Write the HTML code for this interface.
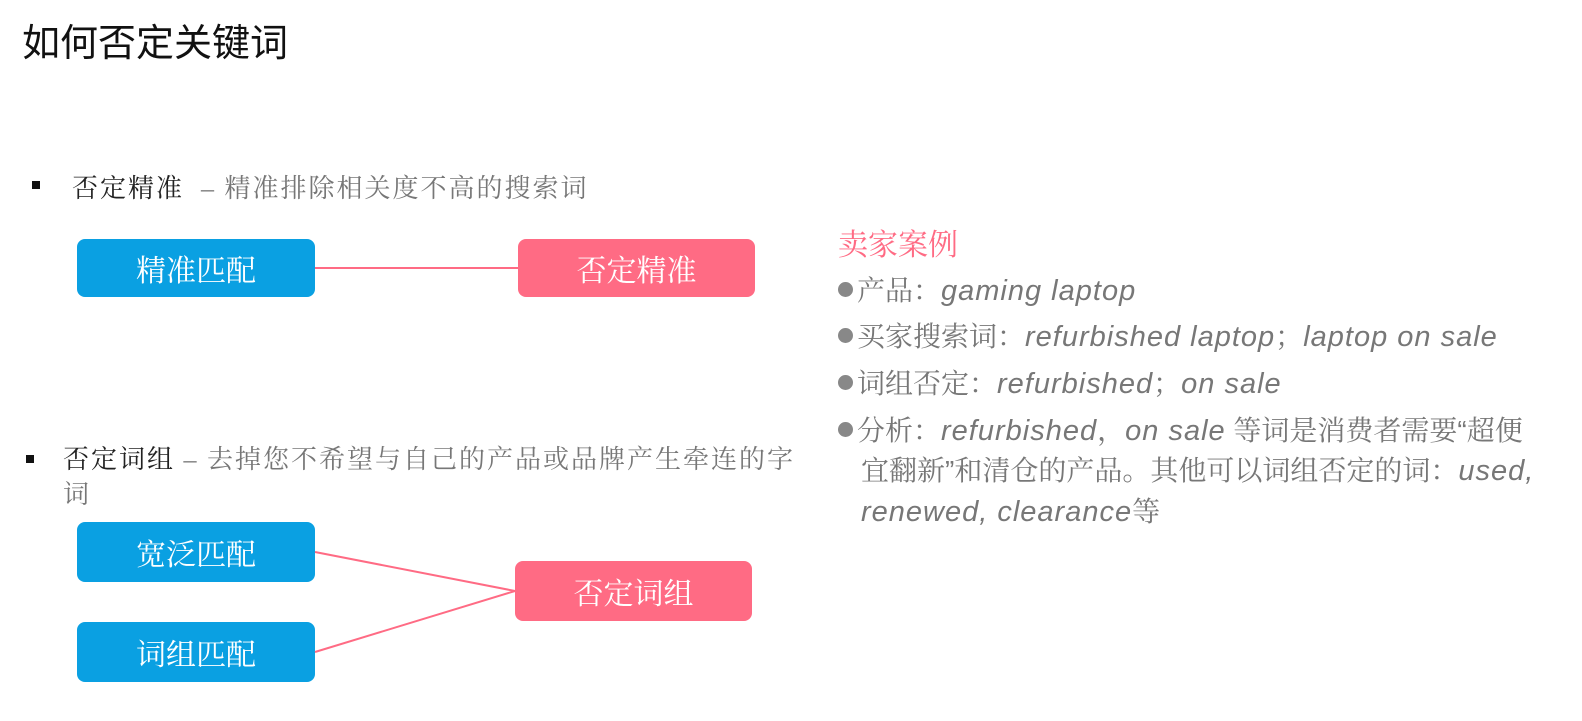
<!DOCTYPE html>
<html><head><meta charset="utf-8"><style>
body{margin:0;width:1582px;height:721px;background:#fff;position:relative;overflow:hidden;font-family:"Liberation Sans","Noto Sans CJK SC",sans-serif}
.a{position:absolute;white-space:nowrap}
.box{position:absolute;border-radius:8px;color:#fff;font-size:30px;display:flex;align-items:center;justify-content:center;font-family:"Liberation Serif","Noto Serif CJK SC",serif}
.b{background:#0aa0e2}.p{background:#ff6b84}
.r{font-family:"Liberation Sans","Noto Serif CJK SC",serif;color:#777;font-size:28px}
.r i{font-style:italic;font-size:29px;letter-spacing:1px}
.dot{display:inline-block;width:15px;height:15px;border-radius:50%;background:#888;margin-right:4px;vertical-align:3px}
.g{color:#777;font-family:"Liberation Serif","Noto Serif CJK SC",serif}
</style></head><body>
<div class="a" style="left:22px;top:12px;font-size:38px;color:#111">如何否定关键词</div>

<div class="a" style="left:32px;top:181px;width:8px;height:8px;background:#111"></div>
<div class="a" style="left:72px;top:168px;font-size:26px;letter-spacing:2px;color:#222;font-family:'Liberation Serif','Noto Serif CJK SC',serif">否定精准 <span class="g">&nbsp;– 精准排除相关度不高的搜索词</span></div>

<div class="box b" style="left:77px;top:239px;width:238px;height:58px">精准匹配</div>
<div class="box p" style="left:518px;top:239px;width:237px;height:58px">否定精准</div>

<div class="a" style="left:26px;top:455px;width:8px;height:8px;background:#111"></div>
<div class="a" style="left:63px;top:442px;font-size:26px;letter-spacing:2px;color:#222;line-height:35px;font-family:'Liberation Serif','Noto Serif CJK SC',serif">否定词组 <span class="g">– 去掉您不希望与自己的产品或品牌产生牵连的字</span><br><span class="g">词</span></div>

<div class="box b" style="left:77px;top:522px;width:238px;height:60px">宽泛匹配</div>
<div class="box b" style="left:77px;top:622px;width:238px;height:60px">词组匹配</div>
<div class="box p" style="left:515px;top:561px;width:237px;height:60px">否定词组</div>

<svg class="a" style="left:0;top:0" width="1582" height="721">
<line x1="315" y1="268" x2="518" y2="268" stroke="#ff6b84" stroke-width="2"/>
<line x1="315" y1="552" x2="515" y2="591" stroke="#ff6b84" stroke-width="2"/>
<line x1="315" y1="652" x2="515" y2="591" stroke="#ff6b84" stroke-width="2"/>
</svg>

<div class="a" style="left:838px;top:220px;font-size:30px;color:#ff6b84;font-family:'Liberation Serif','Noto Serif CJK SC',serif">卖家案例</div>
<div class="a r" style="left:838px;top:269px"><span class="dot"></span>产品：<i>gaming laptop</i></div>
<div class="a r" style="left:838px;top:315px"><span class="dot"></span>买家搜索词：<i>refurbished laptop</i>；<i>laptop on sale</i></div>
<div class="a r" style="left:838px;top:362px"><span class="dot"></span>词组否定：<i>refurbished</i>；<i>on sale</i></div>
<div class="a r" style="left:838px;top:409px"><span class="dot"></span>分析：<i>refurbished</i>，<i>on sale</i> 等词是消费者需要“超便</div>
<div class="a r" style="left:861px;top:449px">宜翻新”和清仓的产品。其他可以词组否定的词：<i>used,</i></div>
<div class="a r" style="left:861px;top:490px"><i>renewed, clearance</i>等</div>
</body></html>
